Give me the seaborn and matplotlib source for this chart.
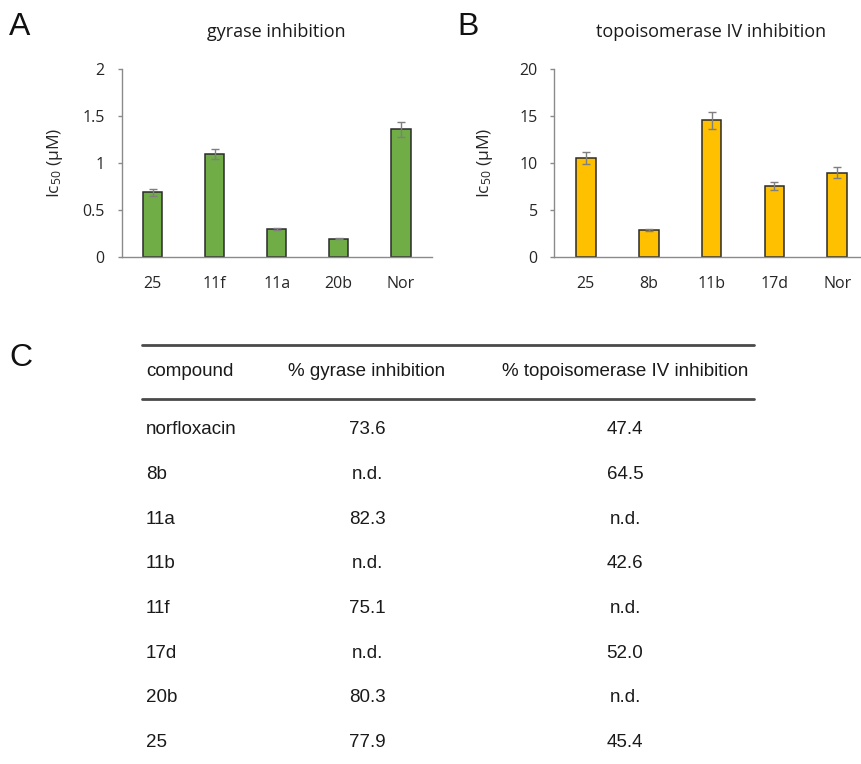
import matplotlib
matplotlib.use("Agg")
import matplotlib.pyplot as plt
from matplotlib.ticker import FormatStrFormatter
from matplotlib.lines import Line2D
import seaborn as sns

# panel A: gyrase IC50
gyr_labels = ["25", "11f", "11a", "20b", "Nor"]
gyr_ic50 = [0.69, 1.10, 0.30, 0.20, 1.36]
gyr_err = [0.04, 0.055, 0.012, 0.006, 0.075]

# panel B: topoisomerase IV IC50
topo_labels = ["25", "8b", "11b", "17d", "Nor"]
topo_ic50 = [10.6, 2.9, 14.6, 7.6, 9.0]
topo_err = [0.65, 0.15, 0.9, 0.45, 0.6]

# panel C: table
tbl_header = ["compound", "% gyrase inhibition", "% topoisomerase IV inhibition"]
tbl_compound = ["norfloxacin", "8b", "11a", "11b", "11f", "17d", "20b", "25"]
tbl_gyrase = ["73.6", "n.d.", "82.3", "n.d.", "75.1", "n.d.", "80.3", "77.9"]
tbl_topo = ["47.4", "64.5", "n.d.", "42.6", "n.d.", "52.0", "n.d.", "45.4"]

sns.set_style("white")
plt.rcParams['font.family'] = ['Open Sans', 'DejaVu Sans']
plt.rcParams['mathtext.fontset'] = 'custom'
plt.rcParams['mathtext.rm'] = 'Open Sans'
plt.rcParams['mathtext.it'] = 'Open Sans:italic'

W, H = 861, 764
fig = plt.figure(figsize=(W / 100, H / 100), dpi=100)


def px_axes(left, top, width, height):
    return fig.add_axes([left / W, 1 - (top + height) / H, width / W, height / H])


def bar_panel(ax, labels, vals, errs, color, ymax, step, title, label_x):
    sns.barplot(x=labels, y=vals, ax=ax, color=color, width=0.316,
                edgecolor="#2b2b2b", linewidth=1.1, saturation=1)
    ax.errorbar(range(len(vals)), vals, yerr=errs, fmt="none", ecolor="#7f7f7f",
                elinewidth=1, capsize=2.6, capthick=1)
    ax.set_xlim(-0.5, len(vals) - 0.5)
    ax.set_ylim(0, ymax)
    ax.set_yticks([i * step for i in range(5)])
    ax.yaxis.set_major_formatter(FormatStrFormatter('%g'))
    for s in ["top", "right"]:
        ax.spines[s].set_visible(False)
    for s in ["left", "bottom"]:
        ax.spines[s].set_color("#8a8a8a")
        ax.spines[s].set_linewidth(1)
    ax.tick_params(axis="y", left=True, length=3, width=1, color="#8a8a8a",
                   pad=9, labelsize=11.5, labelcolor="#262626")
    ax.tick_params(axis="x", bottom=False, pad=10, labelsize=11.5, labelcolor="#262626")
    ax.set_xlabel("")
    ax.set_ylabel("Ic$_{50}$ (µM)", fontsize=12.5, color="#262626")
    ax.yaxis.set_label_coords(label_x, 0.5)
    ax.set_title(title, fontsize=13, color="#1a1a1a", pad=23)


axA = px_axes(121.5, 69.3, 310.25, 188)
bar_panel(axA, gyr_labels, gyr_ic50, gyr_err, "#70AD47", 2, 0.5,
          "gyrase inhibition", -0.182)

axB = px_axes(554.3, 69.3, 314.5, 188)
bar_panel(axB, topo_labels, topo_ic50, topo_err, "#FFC000", 20, 5,
          "topoisomerase IV inhibition", -0.189)

# panel letters
for letter, x, y in [("A", 9, 27), ("B", 457, 27), ("C", 9, 358)]:
    fig.text(x / W, 1 - y / H, letter, fontsize=23, family="Liberation Sans",
             ha="left", va="center", color="#111111")

# table (pixel coordinates)
def fy(y):
    return 1 - y / H

tfont = dict(family="Liberation Sans", fontsize=13.5, color="#1a1a1a", va="center")
for y in [345, 399]:
    fig.add_artist(Line2D([141.7 / W, 754 / W], [fy(y), fy(y)], color="#4a4a4a", lw=2))

col_x = [146, 367, 625]
fig.text(col_x[0] / W, fy(371), tbl_header[0], ha="left", **tfont)
fig.text(col_x[1] / W, fy(371), tbl_header[1], ha="center", **tfont)
fig.text(col_x[2] / W, fy(371), tbl_header[2], ha="center", **tfont)

row0, row_step = 430, 44.6
for i, (c, g, t) in enumerate(zip(tbl_compound, tbl_gyrase, tbl_topo)):
    y = fy(row0 + i * row_step)
    fig.text(col_x[0] / W, y, c, ha="left", **tfont)
    fig.text(col_x[1] / W, y, g, ha="center", **tfont)
    fig.text(col_x[2] / W, y, t, ha="center", **tfont)

fig.savefig("out.png", dpi=100)
